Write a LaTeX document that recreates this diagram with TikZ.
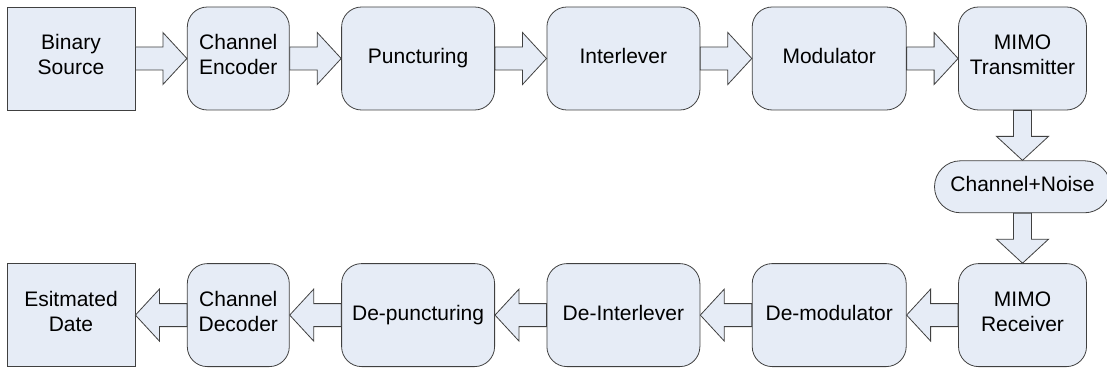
\documentclass[tikz,border=0pt]{standalone}
\usepackage{fontspec}
\setmainfont{Liberation Sans}
\usetikzlibrary{positioning,calc}
\definecolor{boxfill}{RGB}{230,236,246}
\definecolor{edgegray}{RGB}{64,64,64}

\begin{document}
\begin{tikzpicture}[x=1pt,y=-1pt,node distance=51.5pt,
    block/.style={draw=edgegray,fill=boxfill,line width=0.8pt,minimum height=103pt,align=center,inner sep=0pt,
        font=\fontsize{21}{25}\selectfont,execute at begin node=\strut,execute at end node=\strut},
    sq node/.style={block,rectangle},
    rd node/.style={block,rounded corners=20pt},
    flow/.style={draw=edgegray,fill=boxfill,line width=0.8pt,to path={
        ($(\tikztostart)!#1!90:(\tikztotarget)$)
        -- ($(\tikztotarget)!24pt!(\tikztostart)!#1!90:(\tikztotarget)$)
        -- ($(\tikztotarget)!24pt!(\tikztostart)!26pt!90:(\tikztotarget)$)
        -- (\tikztotarget)
        -- ($(\tikztotarget)!24pt!(\tikztostart)!26pt!-90:(\tikztotarget)$)
        -- ($(\tikztotarget)!24pt!(\tikztostart)!#1!-90:(\tikztotarget)$)
        -- ($(\tikztostart)!#1!-90:(\tikztotarget)$) -- cycle}},
    flow/.default=11.5pt]
    \useasboundingbox (0,0) rectangle (1107,371);

    % transmit chain
    \node[sq node,minimum width=128pt] (src) at (71,58.5) {Binary\\Source};
    \node[rd node,minimum width=102pt] (enc) [right=of src] {Channel\\Encoder};
    \node[rd node,minimum width=153pt] (punc) [right=of enc] {Puncturing};
    \node[rd node,minimum width=153pt] (intl) [right=of punc] {Interlever};
    \node[rd node,minimum width=154pt] (mod) [right=of intl] {Modulator};
    \node[rd node,minimum width=128pt] (tx) [right=of mod] {MIMO\\Transmitter};

    % channel
    \node[block,minimum width=176pt,minimum height=52pt,rounded corners=26pt] (chan) [below=50pt of tx] {Channel+Noise};

    % receive chain
    \node[rd node,minimum width=128pt] (rx) [below=50pt of chan] {MIMO\\Receiver};
    \node[rd node,minimum width=154pt] (demod) [left=of rx] {De-modulator};
    \node[rd node,minimum width=153pt] (dintl) [left=of demod] {De-Interlever};
    \node[rd node,minimum width=153pt] (dpunc) [left=of dintl] {De-puncturing};
    \node[rd node,minimum width=102pt] (dec) [left=of dpunc] {Channel\\Decoder};
    \node[sq node,minimum width=128pt] (est) [left=of dec] {Esitmated\\Date};

    \path[every edge/.style={flow}]
        (src.east) edge (enc.west)
        (enc.east) edge (punc.west)
        (punc.east) edge (intl.west)
        (intl.east) edge (mod.west)
        (mod.east) edge (tx.west)
        (tx.south) edge[flow=9pt] (chan.north)
        (chan.south) edge[flow=9pt] (rx.north)
        (rx.west) edge (demod.east)
        (demod.west) edge (dintl.east)
        (dintl.west) edge (dpunc.east)
        (dpunc.west) edge (dec.east)
        (dec.west) edge (est.east)
        ;
\end{tikzpicture}
\end{document}
